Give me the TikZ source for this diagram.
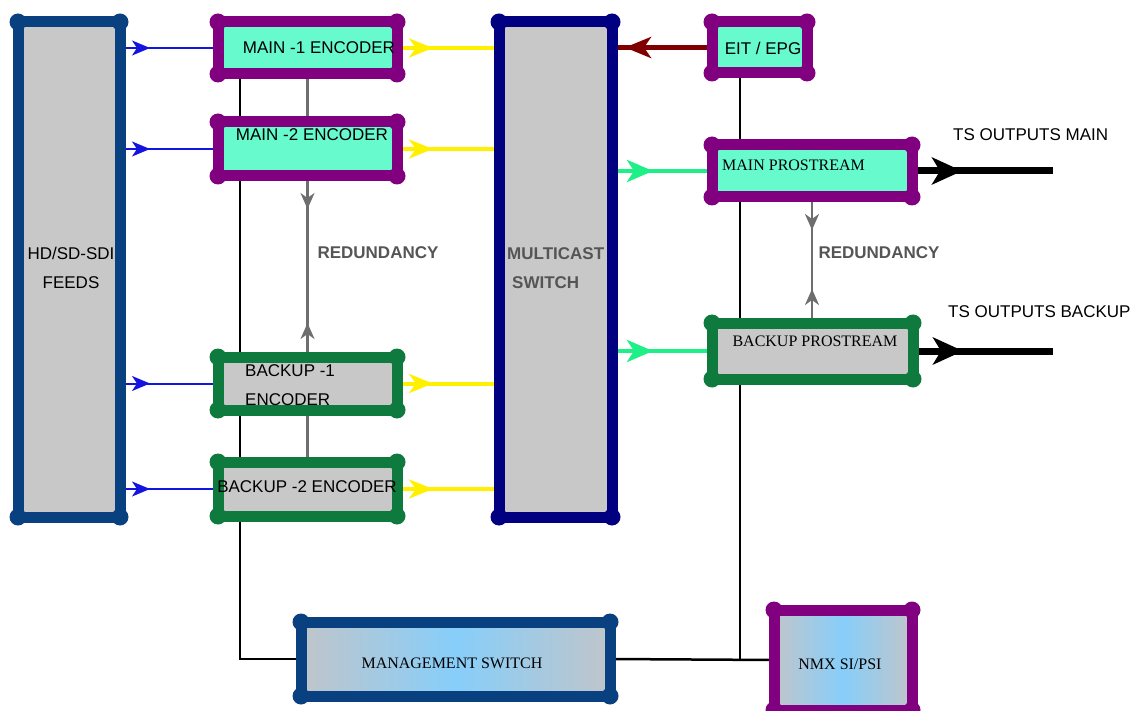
\documentclass[tikz,border=0pt]{standalone}
\usepackage{fontspec}
\setmainfont{Liberation Sans}
\newfontfamily\tnr{Liberation Serif}
\usepackage{xcolor}
\usetikzlibrary{arrows.meta,decorations.markings,backgrounds}
\definecolor{feedblue}{RGB}{8,64,128}
\definecolor{navyblue}{RGB}{0,0,128}
\definecolor{plum}{RGB}{128,0,128}
\definecolor{encgreen}{RGB}{14,122,62}
\definecolor{aqua}{RGB}{102,250,205}
\definecolor{lgray}{RGB}{200,200,200}
\definecolor{sky}{RGB}{135,206,250}
\definecolor{shadegray}{RGB}{192,197,202}
\definecolor{redgray}{RGB}{110,110,110}
\definecolor{txtgray}{RGB}{85,85,85}
\definecolor{spring}{RGB}{30,240,135}
\definecolor{yel}{RGB}{255,240,0}
\definecolor{darkred}{RGB}{128,0,0}
\definecolor{feedline}{RGB}{20,20,225}

\begin{document}
\begin{tikzpicture}[x=1pt,y=-1pt,
  box/.style={rectangle,line width=11pt,inner sep=0pt,outer sep=0pt},
  lbl/.style={font=\fontsize{17}{29}\selectfont,inner sep=0pt},
  gr/.style={font=\bfseries\fontsize{17}{29}\selectfont,text=txtgray,inner sep=0pt},
  tms/.style={font=\tnr\fontsize{16}{19}\selectfont,inner sep=0pt},
  FeedTip/.tip={Stealth[length=18pt,width=15pt,inset=5pt]},
  YelTip/.tip={Stealth[length=24pt,width=19pt,inset=7pt]},
  GrnTip/.tip={Stealth[length=26pt,width=22pt,inset=7pt]},
  OutTip/.tip={Stealth[length=30pt,width=27pt,inset=8pt]},
  EitTip/.tip={Stealth[length=26pt,width=21pt,inset=7pt]},
  RedTip/.tip={Stealth[length=16pt,width=14pt,inset=5pt]},
  feedarrow/.style={draw=feedline,line width=2pt,postaction=decorate,
    decoration={markings,mark=at position 30pt with {\arrow{FeedTip}}}},
  tsarrow/.style={draw=yel,line width=4pt,postaction=decorate,
    decoration={markings,mark=at position 36pt with {\arrow{YelTip}}}},
  iparrow/.style={draw=spring,line width=4.5pt,postaction=decorate,
    decoration={markings,mark=at position 41pt with {\arrow{GrnTip}}}},
  outarrow/.style={draw=black,line width=7pt,postaction=decorate,
    decoration={markings,mark=at position 50pt with {\arrow{OutTip}}}},
  epgarrow/.style={draw=darkred,line width=5pt,postaction=decorate,
    decoration={markings,mark=at position -13pt with {\arrow{EitTip}}}},
  redline/.style={draw=redgray,line width=2.5pt},
  redarrow/.style={redline,postaction=decorate,
    decoration={markings,mark=at position 33pt with {\arrow{RedTip}},
      mark=at position -34pt with {\arrowreversed{RedTip}}}},
  mgmtline/.style={draw=black,line width=2.5pt}]

\useasboundingbox (0,0) rectangle (1143,711);

% boxes
\foreach \n/\x/\y/\w/\h/\c/\f in {feeds/69/269.5/102/495/feedblue/lgray,
  main1/307.5/48/179/52/plum/aqua, main2/307.5/149/179/54/plum/aqua,
  bkp1/307.5/383.5/179/53/encgreen/lgray, bkp2/307.5/489/179/54/encgreen/lgray,
  mcast/555.5/269.5/113/495/navyblue/lgray, eit/759.5/47.5/95/51/plum/aqua,
  mainps/812/171/200/52/plum/aqua, bkpps/812.5/351/201/56/encgreen/lgray}
\node[box,draw=\c,fill=\f,minimum width=\w pt,minimum height=\h pt] (\n) at (\x,\y) {};

\node[box,draw=feedblue,left color=shadegray,right color=shadegray,middle color=sky,
  minimum width=309pt,minimum height=74pt] (mgmt) at (455.5,659) {};
\node[box,draw=plum,left color=shadegray,right color=shadegray,middle color=sky,
  minimum width=138pt,minimum height=100pt] (nmx) at (843,660) {};

% corner dots
\foreach \n/\c in {feeds/feedblue,main1/plum,main2/plum,bkp1/encgreen,bkp2/encgreen,
  mcast/navyblue,eit/plum,mainps/plum,bkpps/encgreen,mgmt/feedblue,nmx/plum}
\foreach \a in {north west,north east,south west,south east}
\fill[fill=\c] (\n.\a) circle (8.5);

% connectors
\coordinate (mgl) at (240,659);
\coordinate (mgr) at (740,659);
\coordinate (tsm) at (1053,171);
\coordinate (tsb) at (1053,351);
\begin{scope}[on background layer]
\foreach \e in {main1,main2,bkp1,bkp2} {
  \draw[feedarrow] (feeds.east |- \e.west) -- (\e.west);
  \draw[tsarrow] (\e.east) -- (mcast.west |- \e.east);
}
\draw[epgarrow] (eit.west) -- (mcast.east |- eit.west);
\draw[iparrow] (mcast.east |- mainps.west) -- (mainps.west);
\draw[iparrow] (mcast.east |- bkpps.west) -- (bkpps.west);
\draw[outarrow] (mainps.east) -- (tsm);
\draw[outarrow] (bkpps.east) -- (tsb);
\draw[redline] (main1.south) -- (main2.north);
\draw[redarrow] (main2.south) -- (bkp1.north);
\draw[redline] (bkp1.south) -- (bkp2.north);
\draw[redarrow] (mainps.south) -- (bkpps.north -| mainps.south);
\draw[mgmtline] (main1.south -| mgl) -- (mgl) -- (mgmt.west);
\draw[mgmtline] (eit.south -| mgr) -- (mgr);
\draw[mgmtline] (mgmt.east) -- (nmx.west);
\end{scope}

% labels
\node[lbl,align=center] (tfeeds) at (71,268) {HD/SD-SDI\\FEEDS};
\node[lbl] (tmain1) at (319,48) {MAIN -1 ENCODER};
\node[lbl] (tmain2) at (312,135) {MAIN -2 ENCODER};
\node[lbl,align=left,anchor=west] (tbkp1) at (245,385) {BACKUP -1\\ENCODER};
\node[lbl] (tbkp2) at (307,487) {BACKUP -2 ENCODER};
\node[gr,align=left,anchor=west] (tmcast) at (507,268) {MULTICAST\\\hspace{5pt}SWITCH};
\node[lbl] (teit) at (763,48) {EIT / EPG};
\node[tms,anchor=west] (tmainps) at (722,165) {MAIN PROSTREAM};
\node[tms] (tbkpps) at (815,341) {BACKUP PROSTREAM};
\node[tms] (tmgmt) at (452,663) {MANAGEMENT SWITCH};
\node[tms] (tnmx) at (840,664) {NMX SI/PSI};
\node[lbl,anchor=west] (tsmain) at (953,135) {TS OUTPUTS MAIN};
\node[lbl,anchor=west] (tsbkp) at (948,312) {TS OUTPUTS BACKUP};
\node[gr] (redl) at (378,253) {REDUNDANCY};
\node[gr] (redr) at (879,253) {REDUNDANCY};

\end{tikzpicture}
\end{document}
